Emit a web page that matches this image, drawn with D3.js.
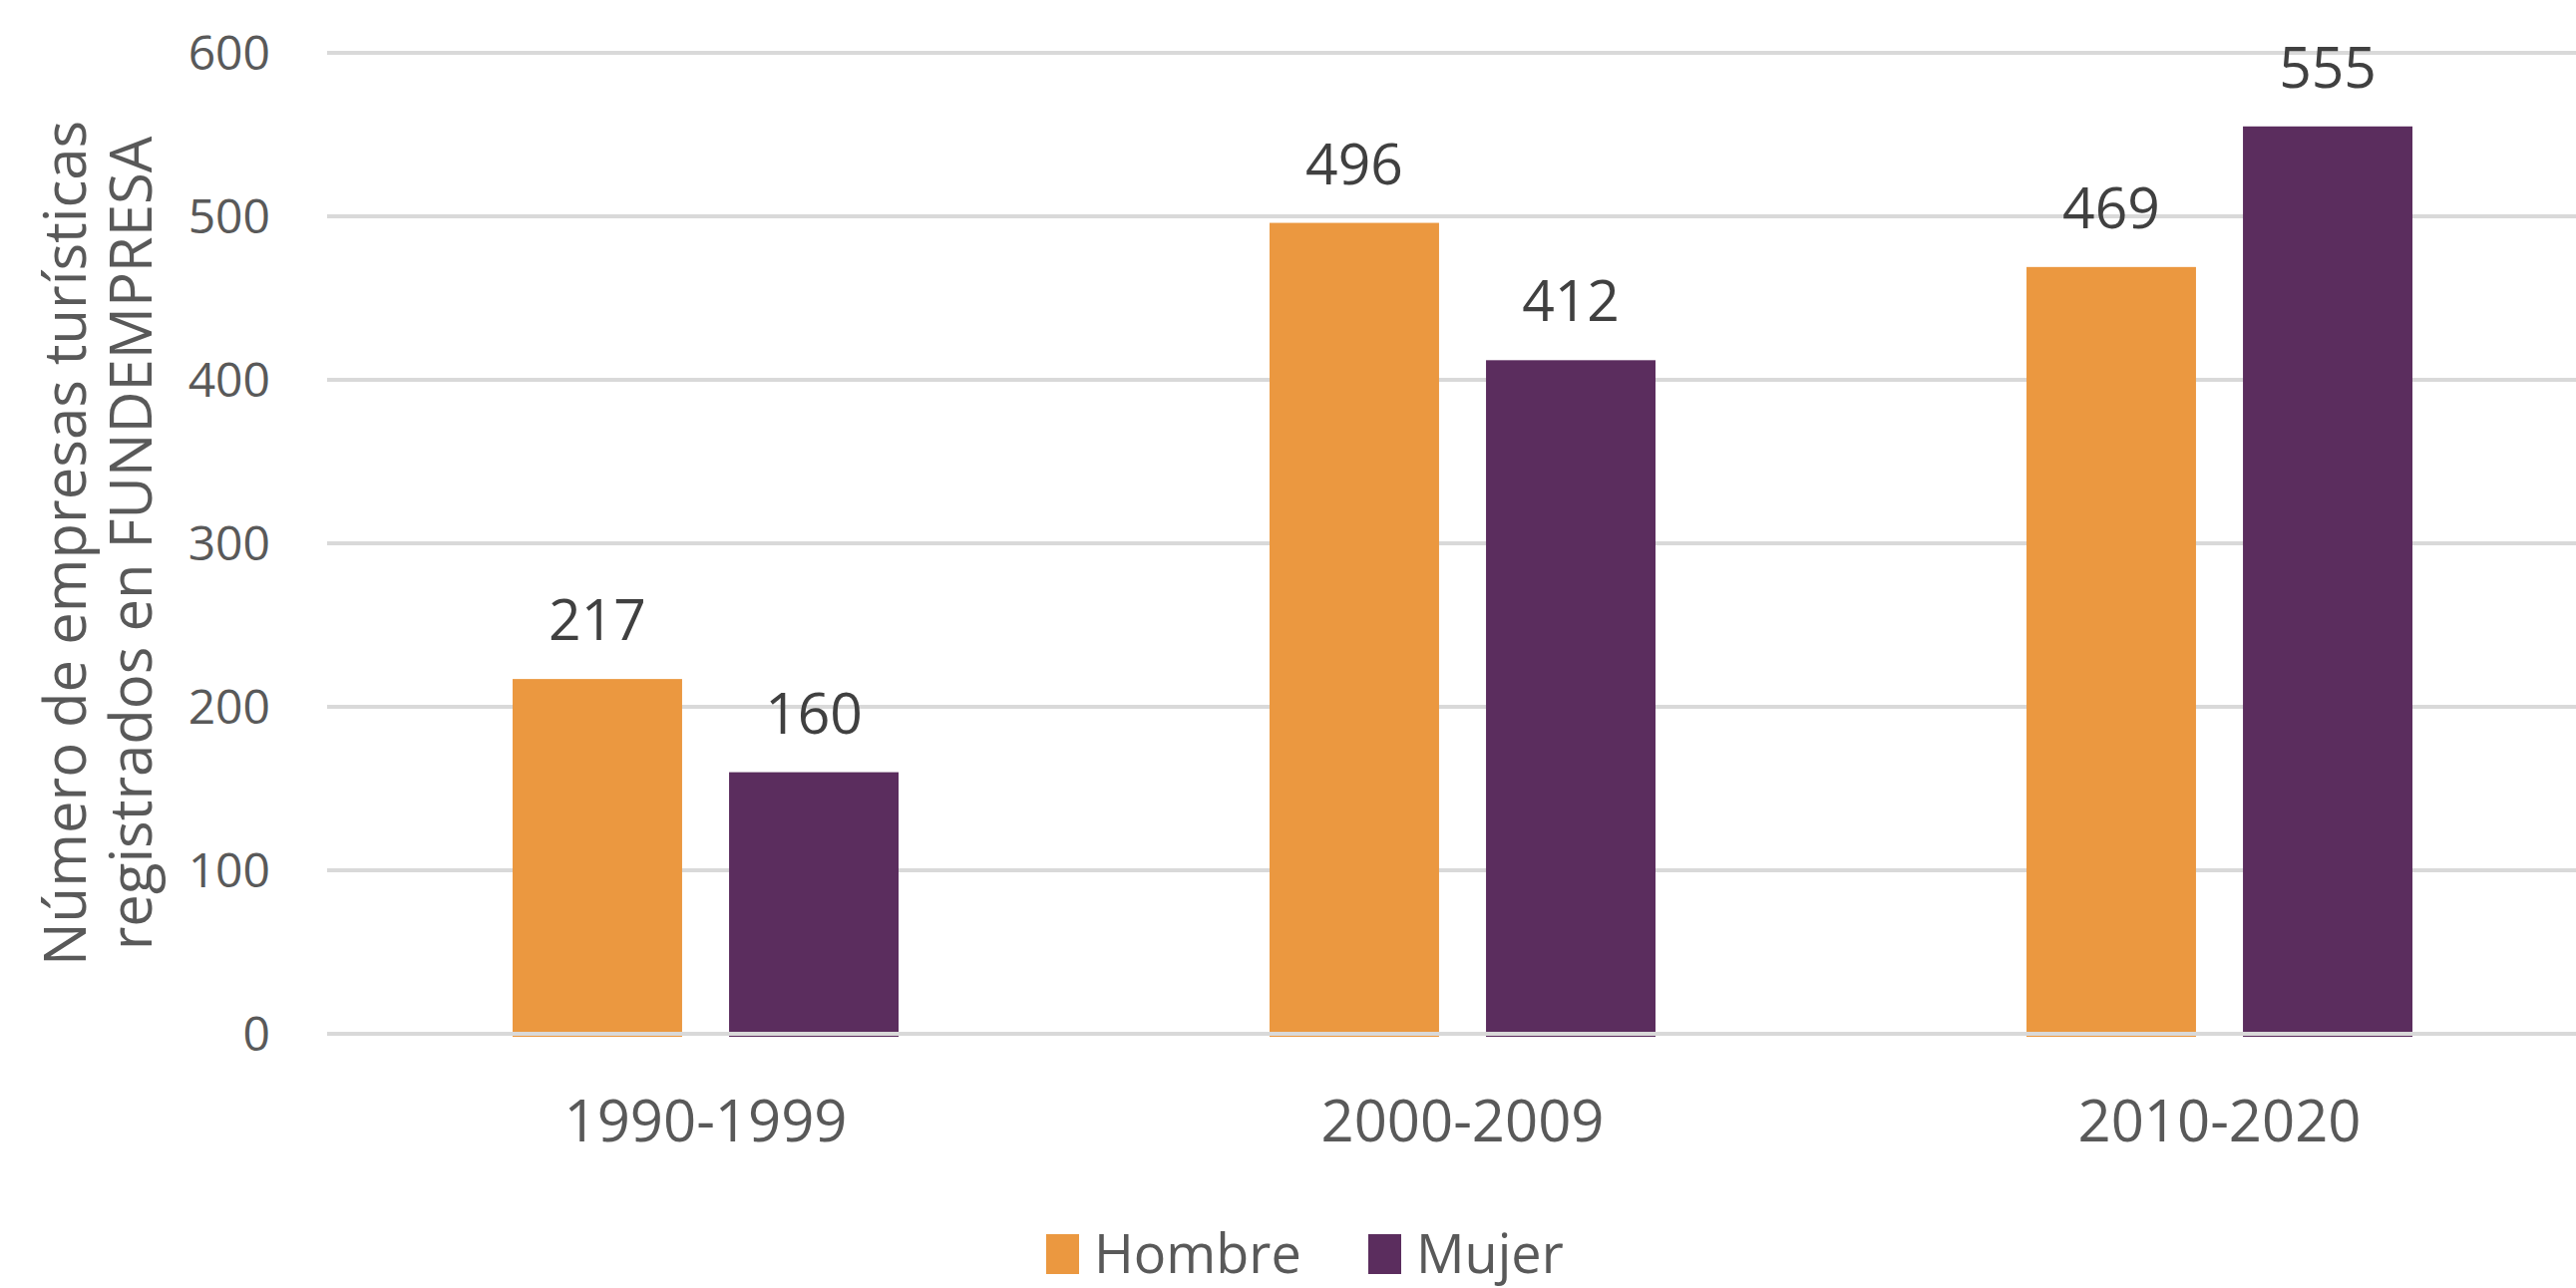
<!DOCTYPE html>
<html lang="es">
<head>
<meta charset="UTF-8">
<title>Empresas turísticas registradas en FUNDEMPRESA</title>
<script src="https://d3js.org/d3.v7.min.js"></script>
<style>
  body { margin: 0; background: #fff; }
  svg { display: block; font-family: "Open Sans", sans-serif; }
  .grid line { stroke: #d9d9d9; stroke-width: 4px; }
  .tick-label { fill: #595959; font-size: 48px; }
  .cat-label { fill: #595959; font-size: 58px; }
  .value-label { fill: #404040; font-size: 57px; }
  .axis-title { fill: #595959; font-size: 58px; }
  .legend text { fill: #595959; font-size: 54px; }
</style>
</head>
<body>
<div id="chart"></div>
<script>
// data
const categories = ["1990-1999", "2000-2009", "2010-2020"];
const series = ["Hombre", "Mujer"];
const hombre = [217, 496, 469];
const mujer = [160, 412, 555];
const yTicks = [0, 100, 200, 300, 400, 500, 600];

const W = 2583, H = 1292;
const colors = { Hombre: "#eb9840", Mujer: "#5b2d5e" };

const svg = d3.select("#chart").append("svg")
    .attr("width", W)
    .attr("height", H);

const rows = categories.map((c, i) => ({ category: c, Hombre: hombre[i], Mujer: mujer[i] }));

const x0 = d3.scaleBand()
    .domain(categories)
    .range([328, 2605])
    .padding(0);

const x1 = d3.scaleBand()
    .domain(series)
    .range([0, x0.bandwidth()])
    .paddingInner(0.217)
    .paddingOuter(0.857);

const y = d3.scaleLinear()
    .domain([0, 600])
    .range([1037, 53]);

// gridlines (behind bars, except the zero line)
svg.append("g")
    .attr("class", "grid")
  .selectAll("line")
  .data(yTicks.filter(d => d !== 0))
  .enter().append("line")
    .attr("x1", 328)
    .attr("x2", W)
    .attr("y1", d => y(d))
    .attr("y2", d => y(d));

// y tick labels
svg.append("g")
  .selectAll("text")
  .data(yTicks)
  .enter().append("text")
    .attr("class", "tick-label")
    .attr("x", 271)
    .attr("y", d => y(d))
    .attr("dy", "0.35em")
    .attr("text-anchor", "end")
    .text(d => d);

// bars
const groups = svg.append("g")
  .selectAll("g")
  .data(rows)
  .enter().append("g")
    .attr("transform", d => `translate(${x0(d.category)},0)`);

groups.selectAll("rect")
  .data(d => series.map(key => ({ key: key, value: d[key] })))
  .enter().append("rect")
    .attr("x", d => x1(d.key))
    .attr("y", d => y(d.value))
    .attr("width", x1.bandwidth())
    .attr("height", d => y(0) - y(d.value) + 3)
    .attr("fill", d => colors[d.key]);

groups.selectAll("text")
  .data(d => series.map(key => ({ key: key, value: d[key] })))
  .enter().append("text")
    .attr("class", "value-label")
    .attr("x", d => x1(d.key) + x1.bandwidth() / 2)
    .attr("y", d => y(d.value) - 39)
    .attr("text-anchor", "middle")
    .text(d => d.value);

// zero line on top
svg.append("g")
    .attr("class", "grid")
  .append("line")
    .attr("x1", 328)
    .attr("x2", W)
    .attr("y1", y(0))
    .attr("y2", y(0));

// category labels
svg.append("g")
  .selectAll("text")
  .data(categories)
  .enter().append("text")
    .attr("class", "cat-label")
    .attr("x", d => x0(d) + x0.bandwidth() / 2)
    .attr("y", 1145)
    .attr("text-anchor", "middle")
    .text(d => d);

// y axis title, two lines
const title = svg.append("text")
    .attr("class", "axis-title")
    .attr("transform", `translate(0,${(y(0) + y(600)) / 2}) rotate(-90)`)
    .attr("text-anchor", "middle");
title.append("tspan").attr("x", 0).attr("y", 86).text("Número de empresas turísticas");
title.append("tspan").attr("x", 0).attr("y", 152).text("registrados en FUNDEMPRESA");

// legend
const legendX = [1049, 1372];
const legend = svg.append("g")
    .attr("class", "legend")
  .selectAll("g")
  .data(series)
  .enter().append("g")
    .attr("transform", (d, i) => `translate(${legendX[i]},1238)`);

legend.append("rect")
    .attr("width", 33)
    .attr("height", 40)
    .attr("fill", d => colors[d]);

legend.append("text")
    .attr("x", 48)
    .attr("y", 39)
    .text(d => d);
</script>
</body>
</html>
